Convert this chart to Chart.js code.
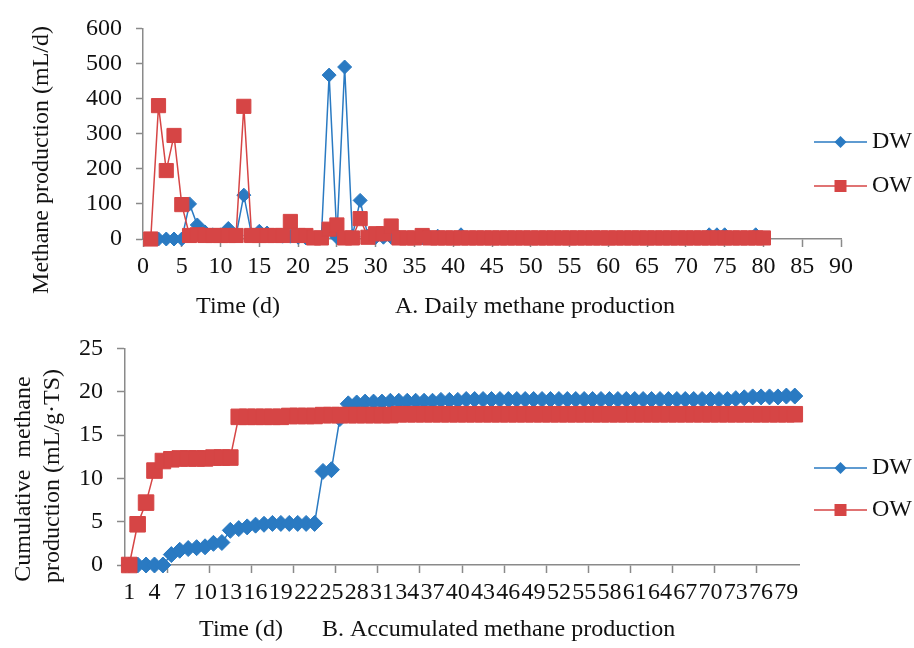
<!DOCTYPE html>
<html>
<head>
<meta charset="utf-8">
<script src="https://cdn.jsdelivr.net/npm/chart.js@4.4.0/dist/chart.umd.min.js"></script>
<style>
  html, body { margin: 0; padding: 0; background: #fff; }
  #wrap { position: relative; width: 914px; height: 648px; }
  #daily { position: absolute; left: 0; top: 0; }
  #cumul { position: absolute; left: 0; top: 320px; }
</style>
</head>
<body>
<div id="wrap">
  <canvas id="daily" width="914" height="320"></canvas>
  <canvas id="cumul" width="914" height="328"></canvas>
</div>
<script>
// Days of digestion (x values / categories)
const days = [
  1, 2, 3, 4, 5, 6, 7, 8, 9, 10, 11, 12, 13, 14, 15, 16, 17, 18, 19, 20,
  21, 22, 23, 24, 25, 26, 27, 28, 29, 30, 31, 32, 33, 34, 35, 36, 37, 38, 39, 40,
  41, 42, 43, 44, 45, 46, 47, 48, 49, 50, 51, 52, 53, 54, 55, 56, 57, 58, 59, 60,
  61, 62, 63, 64, 65, 66, 67, 68, 69, 70, 71, 72, 73, 74, 75, 76, 77, 78, 79, 80
];

// A. Daily methane production (mL/d)
const dwDaily = [
  0, 0, 0, 0, 0, 100, 40, 20, 12, 12, 30, 10, 125, 12, 22, 17, 10, 8, 8, 5,
  3, 3, 5, 467, 5, 490, 8, 110, 8, 5, 5, 5, 5, 3, 3, 3, 5, 8, 3, 3,
  12, 3, 3, 3, 3, 3, 3, 3, 3, 3, 3, 3, 3, 3, 3, 3, 3, 3, 3, 3,
  3, 3, 3, 3, 3, 3, 3, 3, 3, 3, 3, 3, 12, 12, 12, 3, 3, 3, 12, 3
];
const owDaily = [
  0, 380, 195, 295, 98, 10, 12, 10, 10, 10, 10, 10, 378, 10, 10, 10, 10, 10, 50, 10,
  10, 3, 3, 28, 40, 3, 3, 58, 5, 15, 15, 37, 3, 3, 3, 10, 3, 3, 3, 3,
  3, 3, 3, 3, 3, 3, 3, 3, 3, 3, 3, 3, 3, 3, 3, 3, 3, 3, 3, 3,
  3, 3, 3, 3, 3, 3, 3, 3, 3, 3, 3, 3, 3, 3, 3, 3, 3, 3, 3, 3
];

// B. Accumulated methane production (mL/g TS)
const dwCumulative = [
  0, 0, 0, 0, 0, 1.2, 1.7, 1.9, 2.0, 2.1, 2.5, 2.6, 4.0, 4.2, 4.4, 4.6, 4.7, 4.8, 4.8, 4.8,
  4.8, 4.8, 4.8, 10.8, 11.0, 16.9, 18.6, 18.7, 18.8, 18.8, 18.8, 18.9, 18.9, 18.9, 18.9, 18.9, 18.9, 19.0, 19.0, 19.0,
  19.1, 19.1, 19.1, 19.1, 19.1, 19.1, 19.1, 19.1, 19.1, 19.1, 19.1, 19.1, 19.1, 19.1, 19.1, 19.1, 19.1, 19.1, 19.1, 19.1,
  19.1, 19.1, 19.1, 19.1, 19.1, 19.1, 19.1, 19.1, 19.1, 19.1, 19.1, 19.1, 19.2, 19.3, 19.4, 19.4, 19.4, 19.4, 19.5, 19.5
];
const owCumulative = [
  0, 4.7, 7.2, 10.9, 12.0, 12.2, 12.3, 12.3, 12.3, 12.3, 12.4, 12.4, 12.4, 17.1, 17.1, 17.1, 17.1, 17.1, 17.1, 17.2,
  17.2, 17.2, 17.2, 17.3, 17.3, 17.3, 17.3, 17.3, 17.3, 17.3, 17.3, 17.3, 17.4, 17.4, 17.4, 17.4, 17.4, 17.4, 17.4, 17.4,
  17.4, 17.4, 17.4, 17.4, 17.4, 17.4, 17.4, 17.4, 17.4, 17.4, 17.4, 17.4, 17.4, 17.4, 17.4, 17.4, 17.4, 17.4, 17.4, 17.4,
  17.4, 17.4, 17.4, 17.4, 17.4, 17.4, 17.4, 17.4, 17.4, 17.4, 17.4, 17.4, 17.4, 17.4, 17.4, 17.4, 17.4, 17.4, 17.4, 17.4
];

// Tick values
const dailyXTicks = [0, 5, 10, 15, 20, 25, 30, 35, 40, 45, 50, 55, 60, 65, 70, 75, 80, 85, 90];
const dailyYTicks = [0, 100, 200, 300, 400, 500, 600];
const cumulYTicks = [0, 5, 10, 15, 20, 25];

const seriesNames = ['DW', 'OW'];

const FONT = '"Liberation Serif", "Times New Roman", serif';
const BLUE = '#2a7ac2';
const RED = '#d64545';
const AXIS = '#8a8a8a';
const TEXT = '#111';

/*
    Draws free text (axis titles, captions) and the side legend
*/
const captions = {
  id: 'captions',
  afterDraw(chart, args, opts) {
    const ctx = chart.ctx;
    ctx.save();
    ctx.fillStyle = TEXT;
    ctx.font = '24px ' + FONT;
    ctx.textBaseline = 'middle';
    for (const t of opts.texts) {
      ctx.save();
      ctx.translate(t.x, t.y);
      if (t.rotate) ctx.rotate(-Math.PI / 2);
      ctx.textAlign = t.align || 'center';
      ctx.fillText(t.text, 0, 0);
      ctx.restore();
    }

    chart.data.datasets.forEach((ds, i) => {
      const y = opts.legendY[i];
      const mx = (opts.legendX0 + opts.legendX1) / 2;
      ctx.strokeStyle = ds.borderColor;
      ctx.lineWidth = 1.5;
      ctx.beginPath();
      ctx.moveTo(opts.legendX0, y);
      ctx.lineTo(opts.legendX1, y);
      ctx.stroke();
      ctx.fillStyle = ds.backgroundColor;
      ctx.beginPath();
      if (ds.pointStyle === 'rectRot') {
        ctx.moveTo(mx - 6, y);
        ctx.lineTo(mx, y - 6);
        ctx.lineTo(mx + 6, y);
        ctx.lineTo(mx, y + 6);
        ctx.closePath();
      } else {
        ctx.rect(mx - 6, y - 6, 12, 12);
      }
      ctx.fill();
      ctx.fillStyle = TEXT;
      ctx.textAlign = 'left';
      ctx.fillText(ds.label, opts.legendX1 + 5, y);
    });
    ctx.restore();
  }
};

function makeDataset(label, data, color, style, radius, order) {
  return {
    label: label,
    data: data,
    borderColor: color,
    backgroundColor: color,
    borderWidth: 1.5,
    pointStyle: style,
    pointRadius: radius,
    pointHoverRadius: radius,
    pointBorderWidth: 1,
    pointBackgroundColor: color,
    pointBorderColor: color,
    tension: 0,
    clip: false,
    order: order
  };
}

function axisStyle(tickLength) {
  return {
    grid: { drawOnChartArea: false, drawTicks: true, tickLength: tickLength, color: AXIS, tickColor: AXIS, tickWidth: 1.5 },
    border: { color: AXIS, width: 1.5 }
  };
}

/*
    Chart A: daily production against a linear day axis
*/
new Chart(document.getElementById('daily'), {
  type: 'line',
  data: {
    datasets: [
      makeDataset(seriesNames[0], days.map((d, i) => ({ x: d, y: dwDaily[i] })), BLUE, 'rectRot', 7, 1),
      makeDataset(seriesNames[1], days.map((d, i) => ({ x: d, y: owDaily[i] })), RED, 'rect', 10, 0)
    ]
  },
  options: {
    responsive: false,
    animation: false,
    devicePixelRatio: 1,
    layout: { padding: { left: 0, top: 20, right: 73, bottom: 0 } },
    plugins: {
      legend: { display: false },
      tooltip: { enabled: false },
      captions: {
        texts: [
          { text: 'Methane production (mL/d)', x: 42, y: 160, rotate: true },
          { text: 'Time (d)', x: 238, y: 307 },
          { text: 'A. Daily methane production', x: 395, y: 307, align: 'left' }
        ],
        legendX0: 814, legendX1: 867, legendY: [142, 186]
      }
    },
    scales: {
      x: {
        type: 'linear',
        min: 0,
        max: 90,
        afterBuildTicks: s => { s.ticks = dailyXTicks.map(v => ({ value: v })); },
        ticks: { font: { family: FONT, size: 24 }, color: TEXT, padding: 5, maxRotation: 0, minRotation: 0 },
        ...axisStyle(8),
        afterFit: s => { s.height = 81; }
      },
      y: {
        min: 0,
        max: 600,
        afterBuildTicks: s => { s.ticks = dailyYTicks.map(v => ({ value: v })); },
        ticks: { font: { family: FONT, size: 24 }, color: TEXT, padding: 14 },
        ...axisStyle(7),
        afterFit: s => { s.width = 143; }
      }
    }
  },
  plugins: [captions]
});

/*
    Chart B: accumulated production against a category day axis
*/
new Chart(document.getElementById('cumul'), {
  type: 'line',
  data: {
    labels: days.map(String),
    datasets: [
      makeDataset(seriesNames[0], dwCumulative, BLUE, 'rectRot', 8, 1),
      makeDataset(seriesNames[1], owCumulative, RED, 'rect', 11, 0)
    ]
  },
  options: {
    responsive: false,
    animation: false,
    devicePixelRatio: 1,
    layout: { padding: { left: 0, top: 28, right: 115, bottom: 0 } },
    plugins: {
      legend: { display: false },
      tooltip: { enabled: false },
      captions: {
        texts: [
          { text: 'Cumulative  methane', x: 24, y: 159, rotate: true },
          { text: 'production (mL/g·TS)', x: 53, y: 156, rotate: true },
          { text: 'Time (d)', x: 241, y: 310 },
          { text: 'B. Accumulated methane production', x: 322, y: 310, align: 'left' }
        ],
        legendX0: 814, legendX1: 867, legendY: [148, 190]
      }
    },
    scales: {
      x: {
        type: 'category',
        offset: true,
        ticks: {
          autoSkip: false,
          maxRotation: 0,
          minRotation: 0,
          font: { family: FONT, size: 24 },
          color: TEXT,
          padding: 5,
          callback: function (value, index) {
            return index % 3 === 0 ? this.getLabelForValue(value) : '';
          }
        },
        grid: {
          offset: true,
          drawOnChartArea: false,
          drawTicks: true,
          tickLength: 8,
          tickWidth: 1.5,
          color: AXIS,
          tickColor: ctx => (ctx.index % 5 === 0 ? AXIS : 'rgba(0,0,0,0)')
        },
        border: { color: AXIS, width: 1.5 },
        afterFit: s => { s.height = 83; }
      },
      y: {
        min: 0,
        max: 25,
        afterBuildTicks: s => { s.ticks = cumulYTicks.map(v => ({ value: v })); },
        ticks: { font: { family: FONT, size: 24 }, color: TEXT, padding: 14 },
        ...axisStyle(8),
        afterFit: s => { s.width = 125; }
      }
    }
  },
  plugins: [captions]
});
</script>
</body>
</html>
